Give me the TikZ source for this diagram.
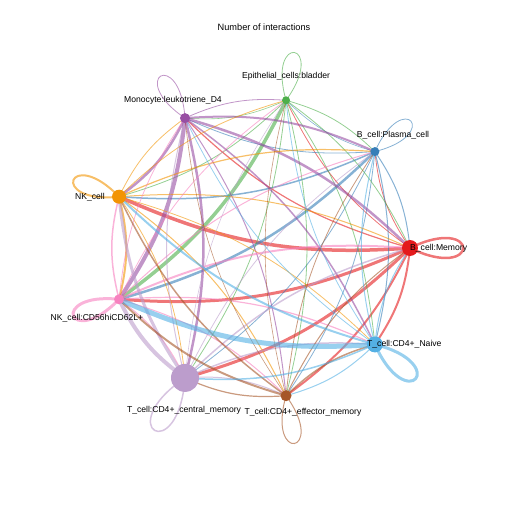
\documentclass[tikz,border=0pt]{standalone}
\usepackage{fontspec}
\setmainfont{Liberation Sans}
\usepackage{tikz}
\definecolor{cmem}{HTML}{E41A1C}
\definecolor{cplasma}{HTML}{377EB8}
\definecolor{cepith}{HTML}{4DAF4A}
\definecolor{cmono}{HTML}{984EA3}
\definecolor{cnk}{HTML}{F29403}
\definecolor{cnkcd}{HTML}{F781BF}
\definecolor{ctcm}{HTML}{BC9DCC}
\definecolor{ctem}{HTML}{A65628}
\definecolor{cnaive}{HTML}{54B0E4}
\tikzset{
  link/.style={opacity=0.6},
  lbl/.style={font=\fontsize{8.6}{10}\selectfont,inner sep=0pt}
}

\begin{document}
\begin{tikzpicture}[x=1pt,y=1pt]
      \useasboundingbox (-260,-259) rectangle (247,248);
      \coordinate (mem) at (0:150);
      \coordinate (plasma) at (40:150);
      \coordinate (epith) at (80:150);
      \coordinate (mono) at (120:150);
      \coordinate (nk) at (160:150);
      \coordinate (nkcd) at (200:150);
      \coordinate (tcm) at (240:150);
      \coordinate (tem) at (280:150);
      \coordinate (naive) at (320:150);
      \foreach \t/\w in {plasma/0.8,epith/0.8,mono/1.2,nk/3.5,nkcd/3,tcm/3,tem/2,naive/2}
        \draw[link,cmem,line width=\w pt] (mem) to[bend left=14] (\t);
      \foreach \t/\w in {mem/1,epith/0.6,mono/0.8,nk/1.5,nkcd/2.5,tcm/0.8,tem/0.8,naive/1}
        \draw[link,cplasma,line width=\w pt] (plasma) to[bend left=14] (\t);
      \foreach \t/\w in {mem/0.8,plasma/0.8,mono/0.6,nk/0.8,nkcd/3.5,tcm/0.8,tem/0.8,naive/0.8}
        \draw[link,cepith,line width=\w pt] (epith) to[bend left=14] (\t);
      \foreach \t/\w in {mem/2.5,plasma/2,epith/0.8,nk/2.5,nkcd/4,tcm/2.5,tem/1,naive/1.5}
        \draw[link,cmono,line width=\w pt] (mono) to[bend left=14] (\t);
      \foreach \t/\w in {mem/1,plasma/1.2,epith/0.8,mono/0.8,nkcd/2,tcm/0.8,tem/1,naive/0.8}
        \draw[link,cnk,line width=\w pt] (nk) to[bend left=14] (\t);
      \foreach \t/\w in {mem/2,plasma/1,epith/0.8,mono/0.8,nk/1.5,tcm/1,tem/1,naive/1.2}
        \draw[link,cnkcd,line width=\w pt] (nkcd) to[bend left=14] (\t);
      \foreach \t/\w in {mem/1.5,plasma/0.8,epith/0.6,mono/1,nk/3,nkcd/4,tem/1,naive/1.5}
        \draw[link,ctcm,line width=\w pt] (tcm) to[bend left=14] (\t);
      \foreach \t/\w in {mem/1,plasma/0.8,epith/0.6,mono/0.6,nk/1.5,nkcd/2,tcm/1.2,naive/1.5}
        \draw[link,ctem,line width=\w pt] (tem) to[bend left=14] (\t);
      \foreach \t/\w in {mem/1,plasma/1,epith/0.8,mono/0.8,nk/2,nkcd/5,tcm/1.5,tem/1}
        \draw[link,cnaive,line width=\w pt] (naive) to[bend left=14] (\t);
      \foreach \n/\a/\w/\d in {mem/0/2.5/79,plasma/40/0.8/70,epith/80/0.8/72,mono/120/0.8/72,nk/160/2/72,
          nkcd/200/3/72,tcm/240/1.5/90,tem/280/1/72,naive/320/3/79}
        \draw[link,c\n,line width=\w pt] (\n) to[out=\a+26,in=\a-26,min distance=\d pt] (\n);
      \fill[cmem] (mem) circle (8);
      \fill[cplasma] (plasma) circle (4.5);
      \fill[cepith] (epith) circle (4);
      \fill[cmono] (mono) circle (5);
      \fill[cnk] (nk) circle (7);
      \fill[cnkcd] (nkcd) circle (5);
      \fill[ctcm] (tcm) circle (14);
      \fill[ctem] (tem) circle (5.5);
      \fill[cnaive] (naive) circle (8);
      \node[font=\fontsize{9.2}{11}\selectfont] (title) at (4,221) {Number of interactions};
      \node[lbl] (lmem) at (150,0) [anchor=west] {B\_cell:Memory};
      \node[lbl] (lplasma) at (133,113) {B\_cell:Plasma\_cell};
      \node[lbl] (lepith) at (26,172) {Epithelial\_cells:bladder};
      \node[lbl] (lmono) at (-87,148) {Monocyte:leukotriene\_D4};
      \node[lbl] (lnk) at (-155,51) [anchor=east] {NK\_cell};
      \node[lbl] (lnkcd) at (-163,-70) {NK\_cell:CD56hiCD62L+};
      \node[lbl] (ltcm) at (-76,-162) {T\_cell:CD4+\_central\_memory};
      \node[lbl] (ltem) at (43,-164) {T\_cell:CD4+\_effector\_memory};
      \node[lbl] (lnaive) at (107,-96) [anchor=west] {T\_cell:CD4+\_Naive};
    \end{tikzpicture}
\end{document}
